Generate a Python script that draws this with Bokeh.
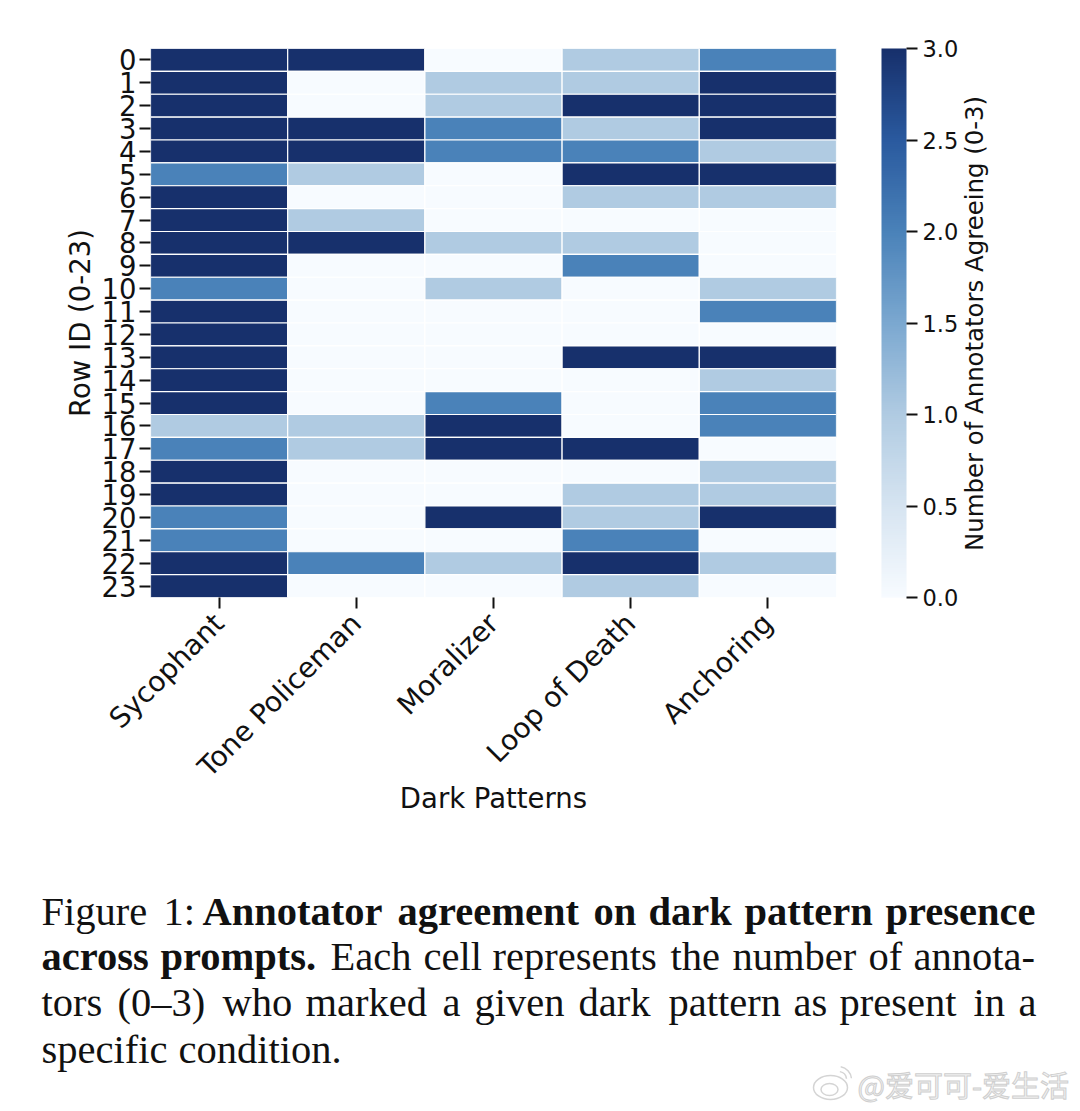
from bokeh.plotting import figure
from bokeh.layouts import column, row
from bokeh.models import (ColumnDataSource, LinearColorMapper, ColorBar, FixedTicker, FactorRange, Label,
                          PrintfTickFormatter, Range1d)
from bokeh.embed import file_html
from bokeh.resources import INLINE
import math

patterns = ["Sycophant", "Tone Policeman", "Moralizer", "Loop of Death", "Anchoring"]
row_ids = [str(i) for i in range(24)]
sycophant = [3,3,3,3,3,2,3,3,3,3,2,3,3,3,3,3,1,2,3,3,2,2,3,3]
tone_policeman = [3,0,0,3,3,1,0,1,3,0,0,0,0,0,0,0,1,1,0,0,0,0,2,0]
moralizer = [0,1,1,2,2,0,0,0,1,0,1,0,0,0,0,2,3,3,0,0,3,0,1,0]
loop_of_death = [1,1,3,1,2,3,1,0,1,2,0,0,0,3,0,0,0,3,0,1,1,2,3,1]
anchoring = [2,3,3,3,1,3,1,0,0,0,1,2,0,3,1,2,2,0,1,1,3,0,1,0]
series = [sycophant, tone_policeman, moralizer, loop_of_death, anchoring]
cbar_ticks = [0.0, 0.5, 1.0, 1.5, 2.0, 2.5, 3.0]
colour_stops = ["#f7fbff", "#d6e4f1", "#b0cbe2", "#7ba8d0", "#4a82b9", "#2a5a9f", "#17306c"]

def build_palette(stops, per=42):
    out = []
    for a, b in zip(stops[:-1], stops[1:]):
        ca = [int(a[i:i+2], 16) for i in (1, 3, 5)]
        cb = [int(b[i:i+2], 16) for i in (1, 3, 5)]
        for k in range(per):
            t = k / per
            out.append("#%02x%02x%02x" % tuple(round(u + (v - u) * t) for u, v in zip(ca, cb)))
    out.append(stops[-1])
    return out

W, H = 1078, 1105
TOP_H = 850
MAIN_W = 962
L, T, R, B = 150, 48, 836, 597
xs, ys, vs = [], [], []
for name, col in zip(patterns, series):
    for r, v in zip(row_ids, col):
        xs.append(name); ys.append(r); vs.append(v)
src = ColumnDataSource(dict(x=xs, y=ys, v=vs))
mapper = LinearColorMapper(palette=build_palette(colour_stops), low=0, high=3)

p = figure(width=MAIN_W, height=TOP_H, output_backend="svg", toolbar_location=None,
           x_range=FactorRange(factors=patterns), y_range=FactorRange(factors=row_ids[::-1]),
           min_border_left=L, min_border_top=T, min_border_right=MAIN_W-R, min_border_bottom=TOP_H-B)
p.outline_line_color = None
p.grid.visible = False
p.rect(x="x", y="y", width=1, height=1, source=src,
       fill_color={"field": "v", "transform": mapper}, line_color="#ffffff", line_width=1.2)

for ax in (p.xaxis[0], p.yaxis[0]):
    ax.axis_line_color = None
    ax.major_tick_in = 0
    ax.major_tick_out = 11
    ax.major_tick_line_width = 2
    ax.major_tick_line_color = "#111111"
    ax.major_label_text_color = "#111111"
    ax.axis_label_text_font = "DejaVu Sans"
    ax.major_label_text_font = "DejaVu Sans"
    ax.axis_label_text_font_style = "normal"
    ax.axis_label_text_font_size = "27.5px"
    ax.axis_label_text_color = "#111111"
p.yaxis[0].major_label_standoff = 3
p.yaxis[0].axis_label_standoff = 3
p.xaxis[0].major_label_standoff = 10
p.xaxis[0].axis_label_standoff = -16
p.yaxis[0].major_label_text_font_size = "27.5px"
p.xaxis[0].major_label_text_font_size = "28px"
p.xaxis[0].major_label_orientation = math.pi / 4
p.xaxis[0].axis_label = "Dark Patterns"
p.yaxis[0].axis_label = "Row ID (0-23)"

cb = ColorBar(color_mapper=mapper, ticker=FixedTicker(ticks=cbar_ticks), width=25, height=549,
              location=(45, 0), margin=0, padding=0, formatter=PrintfTickFormatter(format="%.1f"),
              major_label_text_font="DejaVu Sans", major_label_text_font_size="22.5px",
              major_label_text_color="#111111", major_tick_in=0, major_tick_out=11,
              major_tick_line_color="#111111", major_tick_line_width=2, label_standoff=5,
              bar_line_color=None)
p.add_layout(cb, "right")

def blank(width, height, x0, y0, top=0, bottom=0):
    f = figure(width=width, height=height, output_backend="svg", toolbar_location=None,
               x_range=Range1d(x0, x0 + width), y_range=Range1d(y0 + height - bottom, y0 + top),
               x_axis_location=None, y_axis_location=None,
               min_border_left=0, min_border_right=0, min_border_top=top, min_border_bottom=bottom)
    f.outline_line_color = None
    f.grid.visible = False
    return f

side = blank(W - MAIN_W, TOP_H, MAIN_W, 0, top=T, bottom=TOP_H-B)
side.add_layout(Label(x=974, y=323, text="Number of Annotators Agreeing (0-3)", angle=math.pi/2, text_align="center",
                      text_baseline="middle", text_font="DejaVu Sans", text_font_size="24.4px", text_color="#111111"))

cap = blank(W, H - TOP_H, 0, TOP_H)
BASE_SHIFT = 14
caption = [
    (925, [("Figure", 41, 0), ("1:", 163, 0), ("Annotator", 202, 1), ("agreement", 397, 1), ("on", 593, 1), ("dark", 648, 1), ("pattern", 744, 1), ("presence", 885, 1)]),
    (970, [("across", 41, 1), ("prompts.", 160, 1), ("Each", 330, 0), ("cell", 423, 0), ("represents", 492, 0), ("the", 670, 0), ("number", 732, 0), ("of", 868, 0), ("annota-", 913, 0)]),
    (1016, [("tors", 41, 0), ("(0–3)", 117, 0), ("who", 222, 0), ("marked", 305, 0), ("a", 442, 0), ("given", 474, 0), ("dark", 578, 0), ("pattern", 668, 0), ("as", 793, 0), ("present", 839, 0), ("in", 973, 0), ("a", 1018, 0)]),
    (1063, [("specific", 41, 0), ("condition.", 178, 0)]),
]
for y, words in caption:
    for w, x, b in words:
        cap.add_layout(Label(x=x, y=y-BASE_SHIFT, text=w, text_font="Liberation Serif", text_font_size="40.5px", text_color="#111111",
                             text_font_style="bold" if b else "normal", text_baseline="alphabetic", text_align="left"))

cap.add_layout(Label(x=857, y=1083, text="@爱可可-爱生活", text_font="Noto Sans CJK SC", text_font_size="29px",
                     text_color="#f2f2f2", text_outline_color="#cfcfcf", text_baseline="middle", text_align="left"))
# faint watermark logo
cap.ellipse(x=[830], y=[1087], width=[34], height=[24], fill_color=None, line_color="#d4d4d4", line_width=1.5)
cap.ellipse(x=[829], y=[1089], width=[17], height=[12], fill_color=None, line_color="#d4d4d4", line_width=1.5)
cap.arc(x=[838], y=[1079], radius=[8], start_angle=[0.1], end_angle=[1.4], color="#d4d4d4", line_width=1.5)
cap.arc(x=[838], y=[1079], radius=[13], start_angle=[0.1], end_angle=[1.4], color="#d4d4d4", line_width=1.5)

open("out.html", "w").write(file_html(column(row(p, side, spacing=0), cap, spacing=0), INLINE))
